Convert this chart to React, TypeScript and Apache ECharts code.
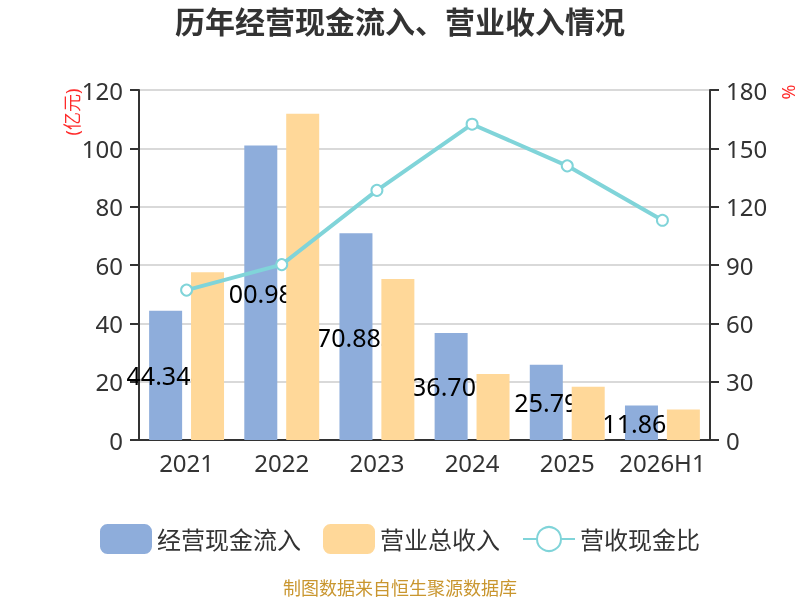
import React, { useEffect, useRef } from "react";
import * as echarts from "echarts";

const categories = ["2021", "2022", "2023", "2024", "2025", "2026H1"];
const cashInflow = [44.344, 100.981, 70.883, 36.706, 25.79, 11.866];
const revenue = [57.5, 111.9, 55.2, 22.6, 18.3, 10.5];
const ratio = [77.1, 90.2, 128.4, 162.4, 141.0, 113.0];
const leftTicks = { min: 0, max: 120, interval: 20 };
const rightTicks = { min: 0, max: 180, interval: 30 };

const FONT = "'Noto Sans', 'Noto Sans CJK SC', sans-serif";

export default function App() {
  const ref = useRef<HTMLDivElement>(null);
  useEffect(() => {
    if (!ref.current) return;
    const chart = echarts.init(ref.current, undefined, { renderer: "svg" });
    const axisLabel = { fontSize: 24, color: "#333", fontFamily: FONT };
    chart.setOption({
      animation: false,
      textStyle: { fontFamily: FONT },
      title: [
        {
          text: "历年经营现金流入、营业收入情况",
          left: "center",
          top: 6,
          padding: 0,
          textStyle: { fontSize: 30, fontWeight: "bold", color: "#333", fontFamily: FONT },
        },
        {
          text: "制图数据来自恒生聚源数据库",
          left: "center",
          top: 579,
          padding: 0,
          textStyle: { fontSize: 18, fontWeight: "normal", color: "#c9962f", fontFamily: FONT },
        },
      ],
      legend: {
        top: 519,
        left: "center",
        itemWidth: 52,
        itemHeight: 30,
        itemGap: 22,
        textStyle: { fontSize: 24, color: "#333", fontFamily: FONT },
        data: ["经营现金流入", "营业总收入", "营收现金比"],
      },
      grid: { left: 139, right: 90, top: 90, bottom: 160 },
      xAxis: {
        type: "category",
        data: categories,
        axisLine: { lineStyle: { color: "#333", width: 2 } },
        axisTick: { interval: 0, length: 8, lineStyle: { color: "#333", width: 2 } },
        axisLabel: { ...axisLabel, interval: 0, margin: 10 },
      },
      yAxis: [
        {
          type: "value",
          ...leftTicks,
          axisLine: { show: true, lineStyle: { color: "#333", width: 2 } },
          axisTick: { show: true, length: 9, lineStyle: { color: "#333", width: 2 } },
          axisLabel: { ...axisLabel, margin: 16 },
          splitLine: { lineStyle: { color: "#cccccc", width: 1.5 } },
        },
        {
          type: "value",
          ...rightTicks,
          axisLine: { show: true, lineStyle: { color: "#333", width: 2 } },
          axisTick: { show: true, length: 9, lineStyle: { color: "#333", width: 2 } },
          axisLabel: { ...axisLabel, margin: 16 },
          splitLine: { show: false },
        },
      ],
      graphic: [
        {
          type: "text",
          x: 72,
          y: 112,
          rotation: Math.PI / 2,
          style: {
            text: "(亿元)",
            fill: "#ff2a2a",
            fontSize: 18,
            fontFamily: FONT,
            align: "center",
            verticalAlign: "middle",
          },
        },
        {
          type: "text",
          x: 788,
          y: 92,
          rotation: Math.PI / 2,
          style: {
            text: "%",
            fill: "#ff2a2a",
            fontSize: 18,
            fontFamily: FONT,
            align: "center",
            verticalAlign: "middle",
          },
        },
      ],
      series: [
        {
          name: "经营现金流入",
          type: "bar",
          z: 2,
          data: cashInflow,
          barWidth: 33,
          barGap: "27%",
          itemStyle: { color: "#8eaddb" },
          label: {
            show: true,
            position: "inside",
            color: "#000",
            fontSize: 25,
            fontFamily: FONT,
          },
        },
        {
          name: "营业总收入",
          type: "bar",
          z: 3,
          data: revenue,
          barWidth: 33,
          barGap: "27%",
          itemStyle: { color: "#ffd899" },
        },
        {
          name: "营收现金比",
          type: "line",
          z: 4,
          yAxisIndex: 1,
          data: ratio,
          symbol: "emptyCircle",
          symbolSize: 11,
          lineStyle: { color: "#80d4d9", width: 4 },
          itemStyle: { color: "#80d4d9", borderWidth: 2.5 },
        },
      ],
    });
    return () => chart.dispose();
  }, []);
  return (
    <div
      ref={ref}
      style={{ position: "fixed", left: 0, top: 0, width: 800, height: 600 }}
    />
  );
}
